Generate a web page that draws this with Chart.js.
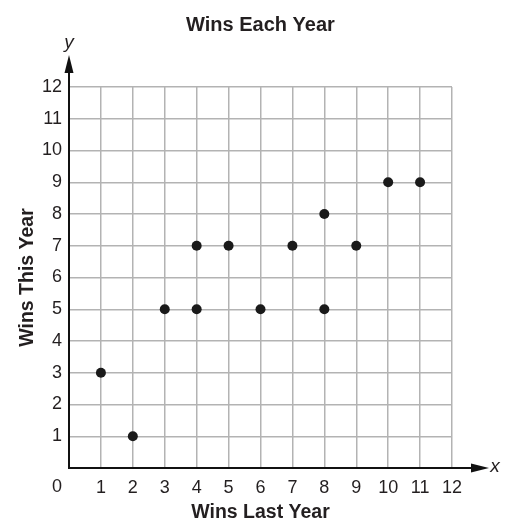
<!DOCTYPE html>
<html>
<head>
<meta charset="utf-8">
<script src="https://cdn.jsdelivr.net/npm/chart.js@4/dist/chart.umd.min.js"></script>
<style>
html,body{margin:0;padding:0;background:#fff;}
canvas{display:block;}
</style>
</head>
<body>
<canvas id="c" width="515" height="531"></canvas>
<script>
const chartTitle = 'Wins Each Year';
const xTitle = 'Wins Last Year';
const yTitle = 'Wins This Year';
const winsLastYear = [1, 2, 3, 4, 4, 5, 6, 7, 8, 8, 9, 10, 11];
const winsThisYear = [3, 1, 5, 7, 5, 7, 5, 7, 8, 5, 7, 9, 9];
const axisMin = 0;
const axisMax = 12;

const FONT = '"Liberation Sans", Arial, Helvetica, sans-serif';
const TXT = '#231f20';

const axesPlugin = {
  id: 'axesArrows',
  afterDraw(chart) {
    const ctx = chart.ctx;
    const xs = chart.scales.x, ys = chart.scales.y;
    const ca = chart.chartArea;
    const x0 = xs.getPixelForValue(0), y0 = ys.getPixelForValue(0);
    ctx.save();
    // title
    ctx.fillStyle = TXT;
    ctx.font = 'bold 20px ' + FONT;
    ctx.textAlign = 'center';
    ctx.textBaseline = 'middle';
    ctx.fillText(chartTitle, (ca.left + ca.right) / 2, 25);

    ctx.strokeStyle = '#111';
    ctx.fillStyle = '#111';
    ctx.lineWidth = 2;
    // y axis
    ctx.beginPath();
    ctx.moveTo(x0, y0 + 1);
    ctx.lineTo(x0, 66);
    ctx.stroke();
    ctx.beginPath();
    ctx.moveTo(x0, 55);
    ctx.lineTo(x0 - 4.5, 73);
    ctx.lineTo(x0 + 4.5, 73);
    ctx.closePath();
    ctx.fill();
    // x axis
    ctx.beginPath();
    ctx.moveTo(x0 - 1, y0);
    ctx.lineTo(478, y0);
    ctx.stroke();
    ctx.beginPath();
    ctx.moveTo(489, y0);
    ctx.lineTo(471, y0 - 4.5);
    ctx.lineTo(471, y0 + 4.5);
    ctx.closePath();
    ctx.fill();
    // axis letters
    ctx.fillStyle = TXT;
    ctx.font = 'italic 19px ' + FONT;
    ctx.fillText('y', x0, 43);
    ctx.fillText('x', 495, y0 - 1);
    // origin label
    ctx.font = '18px ' + FONT;
    ctx.fillText(String(axisMin), 57, 487);
    ctx.restore();
  }
};

new Chart(document.getElementById('c'), {
  type: 'scatter',
  data: {
    datasets: [{
      data: winsLastYear.map((v, i) => ({x: v, y: winsThisYear[i]})),
      pointRadius: 5,
      pointHoverRadius: 5,
      pointBackgroundColor: '#1a1a1a',
      pointBorderColor: '#1a1a1a',
      pointBorderWidth: 0
    }]
  },
  options: {
    responsive: false,
    animation: false,
    layout: { padding: { left: 0, right: 63, top: 87, bottom: 0 } },
    plugins: {
      legend: { display: false },
      tooltip: { enabled: false },
      title: { display: false }
    },
    scales: {
      x: {
        type: 'linear',
        min: axisMin,
        max: axisMax,
        afterFit(s) { s.height = 63; },
        border: { display: false },
        grid: { color: '#b3b3b3', lineWidth: 1.5, drawTicks: false },
        ticks: {
          stepSize: 1,
          padding: 9,
          color: TXT,
          font: { family: FONT, size: 18 },
          maxRotation: 0,
          callback: v => (v === axisMin ? '' : String(v))
        },
        title: {
          display: true,
          text: xTitle,
          color: TXT,
          font: { family: FONT, size: 19.5, weight: 'bold' },
          padding: { top: 0, bottom: 7 }
        }
      },
      y: {
        type: 'linear',
        min: axisMin,
        max: axisMax,
        afterFit(s) { s.width = 69; },
        border: { display: false },
        grid: { color: '#b3b3b3', lineWidth: 1.5, drawTicks: false },
        ticks: {
          stepSize: 1,
          padding: 7,
          color: TXT,
          font: { family: FONT, size: 18 },
          callback: v => (v === axisMin ? '' : String(v))
        },
        title: {
          display: true,
          text: yTitle,
          color: TXT,
          font: { family: FONT, size: 19.5, weight: 'bold' },
          padding: { top: 16, bottom: 0 }
        }
      }
    }
  },
  plugins: [axesPlugin]
});
</script>
</body>
</html>
